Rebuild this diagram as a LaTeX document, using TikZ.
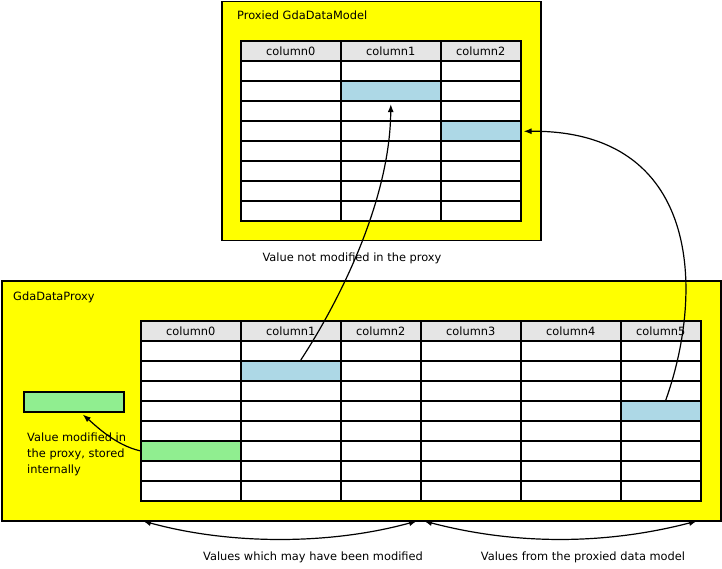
\documentclass[tikz,border=0pt]{standalone}
\usepackage{fontspec}
\setmainfont{DejaVu Sans}
\usetikzlibrary{arrows.meta}
\definecolor{boxyellow}{HTML}{FFFF00}
\definecolor{headgray}{HTML}{E5E5E5}
\definecolor{cellblue}{HTML}{ADD8E6}
\definecolor{cellgreen}{HTML}{90EE90}
\begin{document}
\begin{tikzpicture}[x=1pt,y=-1pt,
  container/.style={draw=black, line width=1.5pt, fill=boxyellow, inner sep=0pt, anchor=north west},
  cellbox/.style={draw=black, line width=1.6pt, fill=white, inner sep=0pt, minimum height=20pt, anchor=north west, font=\fontsize{11.4}{13}\selectfont},
  headbox/.style={cellbox, fill=headgray},
  bluecell/.style={cellbox, fill=cellblue},
  greencell/.style={cellbox, fill=cellgreen},
  link/.style={draw=black, line width=1.2pt, -{Latex[length=8pt,width=6pt]}},
  biglink/.style={draw=black, line width=1.2pt, {Latex[length=8pt,width=6pt]}-{Latex[length=8pt,width=6pt]}},
  lbl/.style={font=\fontsize{11.4}{16}\selectfont, inner sep=0pt},
]
\useasboundingbox[fill=white] (0,0) rectangle (722,569);

% containers
\node[container, minimum width=319pt, minimum height=239pt] (model) at (221,1) {};
\node[container, minimum width=719pt, minimum height=240pt] (proxy) at (1,280) {};

\node[lbl, anchor=base west] (mtitle) at (237,19.5) {Proxied GdaDataModel};
\node[lbl, anchor=base west] (ptitle) at (13,300) {GdaDataProxy};

% top table
\foreach \c/\x/\w in {0/240/100,1/340/100,2/440/80} {
  \node[headbox, minimum width=\w pt] (th\c) at (\x,40.5) {column\c};
  \foreach \r in {0,...,7}
    \node[cellbox, minimum width=\w pt] (t\c-\r) at (\x,{60.5+20*\r}) {};
}
\node[bluecell, minimum width=100pt] (tblue1) at (340,80.5) {};
\node[bluecell, minimum width=80pt] (tblue2) at (440,120.5) {};

% bottom table
\foreach \c/\x/\w in {0/140/100,1/240/100,2/340/80,3/420/100,4/520/100,5/620/80} {
  \node[headbox, minimum width=\w pt] (bh\c) at (\x,320) {column\c};
  \foreach \r in {0,...,7}
    \node[cellbox, minimum width=\w pt] (b\c-\r) at (\x,{340+20*\r}) {};
}
\node[bluecell, minimum width=100pt] (bblue1) at (240,360) {};
\node[bluecell, minimum width=80pt] (bblue5) at (620,400) {};
\node[greencell, minimum width=100pt] (bgreen0) at (140,440) {};

% internal store
\node[greencell, minimum width=100pt] (store) at (23,391) {};

% labels
\node[lbl, anchor=base] (lnot) at (352,261.5) {Value not modified in the proxy};
\node[lbl, anchor=base west, align=left] (lmod) at (27,473) {Value modified in\\the proxy, stored\\internally};
\node[lbl, anchor=base] (lmay) at (313,560) {Values which may have been modified};
\node[lbl, anchor=base] (lfrom) at (583,560) {Values from the proxied data model};

% connectors
\draw[link] ([xshift=10pt]bblue1.north) .. controls (340,300) and (390,200) .. ([yshift=-2pt]tblue1.south);
\draw[link] ([xshift=5pt]bblue5.north) .. controls (705,290) and (700,130) .. ([xshift=2pt]tblue2.east);
\draw[link] (bgreen0.west) .. controls (115,445) and (95,425) .. ([xshift=9pt,yshift=-2pt]store.south);

\coordinate (a1) at (143,521);
\coordinate (a2) at (417,521);
\coordinate (a3) at (424,521);
\coordinate (a4) at (697,521);
\draw[biglink] (a1) .. controls (230,545) and (330,545) .. (a2);
\draw[biglink] (a3) .. controls (515,545) and (605,545) .. (a4);
\end{tikzpicture}
\end{document}
